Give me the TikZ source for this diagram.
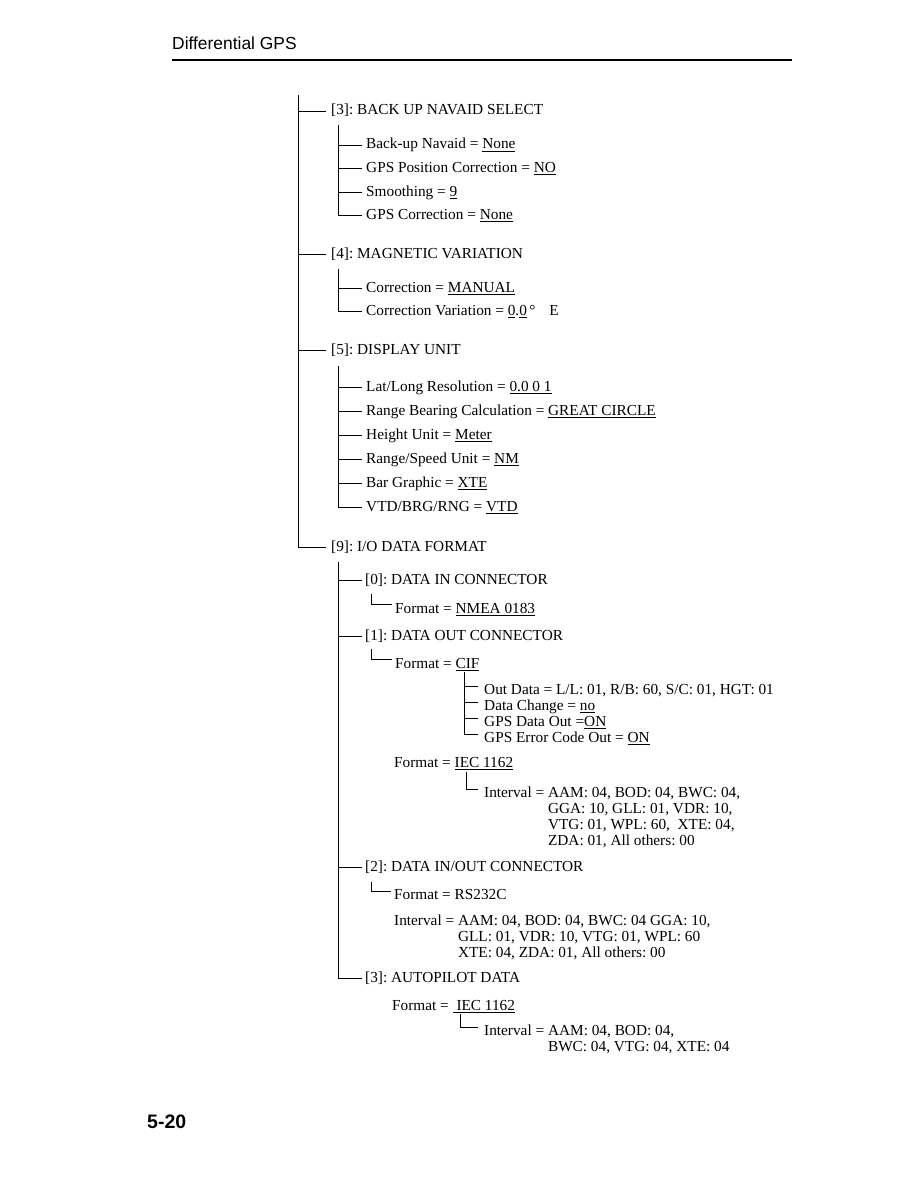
\documentclass[tikz,border=0pt]{standalone}
\usepackage{fontspec}
\setmainfont{Liberation Serif}
\newfontfamily\hdfont{Liberation Sans}
\newcommand\tfont{\fontsize{15.3}{16}\selectfont\frenchspacing}
\newcommand\myul[1]{\setbox0\hbox{#1}\rlap{\rule[-2.8pt]{\wd0}{0.9pt}}\box0}
\begin{document}
\begin{tikzpicture}[x=1pt,y=-1pt,
  t/.style={anchor=base west,inner sep=0pt,font=\tfont},
  hd/.style={anchor=base west,inner sep=0pt,font=\hdfont\fontsize{17.4}{20}\selectfont},
  ft/.style={anchor=base west,inner sep=0pt,font=\hdfont\bfseries\fontsize{19.5}{22}\selectfont},
  tr/.style={line width=0.9pt,draw=black}]
\useasboundingbox (0,0) rectangle (918,1188);

% header
\node[hd] (hdr) at (172,50) {Differential GPS};
\coordinate (rl) at (172,60);
\coordinate (rr) at (792,60);
\draw[line width=1.5pt] (rl) -- (rr);

% level 0
\coordinate (m0) at (298,95);
\node[t] (n3) at (331,115) {[3]: BACK UP NAVAID SELECT};
\node[t] (n4) at (331,258) {[4]: MAGNETIC VARIATION};
\node[t] (n5) at (331,354) {[5]: DISPLAY UNIT};
\node[t] (n9) at (331,551) {[9]: I/O DATA FORMAT};
\foreach \n in {n3,n4,n5,n9}
  \draw[tr] (m0) |- ([xshift=-5pt,yshift=4pt]\n.base west);

% [3]
\coordinate (a0) at (338,125);
\node[t] (a1) at (366,149) {Back-up Navaid = \myul{None}};
\node[t] (a2) at (366,172) {GPS Position Correction = \myul{NO}};
\node[t] (a3) at (366,196) {Smoothing = \myul{9}};
\node[t] (a4) at (366,219) {GPS Correction = \myul{None}};
\foreach \n in {a1,a2,a3,a4}
  \draw[tr] (a0) |- ([xshift=-4pt,yshift=4pt]\n.base west);

% [4]
\coordinate (b0) at (338,269);
\node[t] (b1) at (366,292) {Correction = \myul{MANUAL}};
\node[t] (b2) at (366,315) {Correction Variation = \myul{0}.\myul{0}\,°\hspace{0.9em}E};
\foreach \n in {b1,b2}
  \draw[tr] (b0) |- ([xshift=-4pt,yshift=4pt]\n.base west);

% [5]
\coordinate (c0) at (338,366);
\node[t] (c1) at (366,391) {Lat/Long Resolution = \myul{0.0 0 1}};
\node[t] (c2) at (366,415) {Range Bearing Calculation = \myul{GREAT CIRCLE}};
\node[t] (c3) at (366,439) {Height Unit = \myul{Meter}};
\node[t] (c4) at (366,463) {Range/Speed Unit = \myul{NM}};
\node[t] (c5) at (366,487) {Bar Graphic = \myul{XTE}};
\node[t] (c6) at (366,511) {VTD/BRG/RNG = \myul{VTD}};
\foreach \n in {c1,c2,c3,c4,c5,c6}
  \draw[tr] (c0) |- ([xshift=-4pt,yshift=4pt]\n.base west);

% [9]
\coordinate (d0) at (338,562);
\node[t] (d1) at (365,584) {[0]: DATA IN CONNECTOR};
\node[t] (d2) at (365,640) {[1]: DATA OUT CONNECTOR};
\node[t] (d3) at (365,871) {[2]: DATA IN/OUT CONNECTOR};
\node[t] (d4) at (365,982) {[3]: AUTOPILOT DATA};
\foreach \n in {d1,d2,d3,d4}
  \draw[tr] (d0) |- ([xshift=-3pt,yshift=4pt]\n.base west);

% [0]
\coordinate (e0) at (371,594);
\node[t] (e1) at (395,613) {Format = \myul{NMEA 0183}};
\draw[tr] (e0) |- ([xshift=-3pt,yshift=9pt]e1.base west);

% [1]
\coordinate (f0) at (371,649);
\node[t] (f1) at (395,668) {Format = \myul{CIF}};
\draw[tr] (f0) |- ([xshift=-3pt,yshift=9pt]f1.base west);

\coordinate (g0) at (464,672);
\node[t] (g1) at (484,694) {Out Data = L/L: 01, R/B: 60, S/C: 01, HGT: 01};
\node[t] (g2) at (484,710) {Data Change = \myul{no}};
\node[t] (g3) at (484,726) {GPS Data Out =\myul{ON}};
\node[t] (g4) at (484,742) {GPS Error Code Out = \myul{ON}};
\foreach \n in {g1,g2,g3,g4}
  \draw[tr] (g0) |- ([xshift=-6pt,yshift=8pt]\n.base west);

\node[t] (h1) at (394,767) {Format = \myul{IEC 1162}};
\coordinate (h0) at (466,772);
\node[t] (h2) at (484,797) {\begin{tabular}[t]{@{}l@{\ }l@{}}
Interval = & AAM: 04, BOD: 04, BWC: 04,\\
 & GGA: 10, GLL: 01, VDR: 10,\\
 & VTG: 01, WPL: 60,\ \ XTE: 04,\\
 & ZDA: 01, All others: 00
\end{tabular}};
\draw[tr] (h0) |- ([xshift=-6pt,yshift=8pt]h2.base west);

% [2]
\coordinate (i0) at (371,882);
\node[t] (i1) at (394,899) {Format = RS232C};
\draw[tr] (i0) |- ([xshift=-3pt,yshift=8pt]i1.base west);
\node[t] (i2) at (394,925) {\begin{tabular}[t]{@{}l@{\ }l@{}}
Interval = & AAM: 04, BOD: 04, BWC: 04 GGA: 10,\\
 & GLL: 01, VDR: 10, VTG: 01, WPL: 60\\
 & XTE: 04, ZDA: 01, All others: 00
\end{tabular}};

% [3] autopilot
\node[t] (j1) at (392,1010) {Format = \myul{\ IEC 1162}};
\coordinate (j0) at (460,1014);
\node[t] (j2) at (484,1035) {\begin{tabular}[t]{@{}l@{\ }l@{}}
Interval = & AAM: 04, BOD: 04,\\
 & BWC: 04, VTG: 04, XTE: 04
\end{tabular}};
\draw[tr] (j0) |- ([xshift=-6pt,yshift=8pt]j2.base west);

% footer
\node[ft] (pg) at (147,1128) {5-20};
\end{tikzpicture}
\end{document}
